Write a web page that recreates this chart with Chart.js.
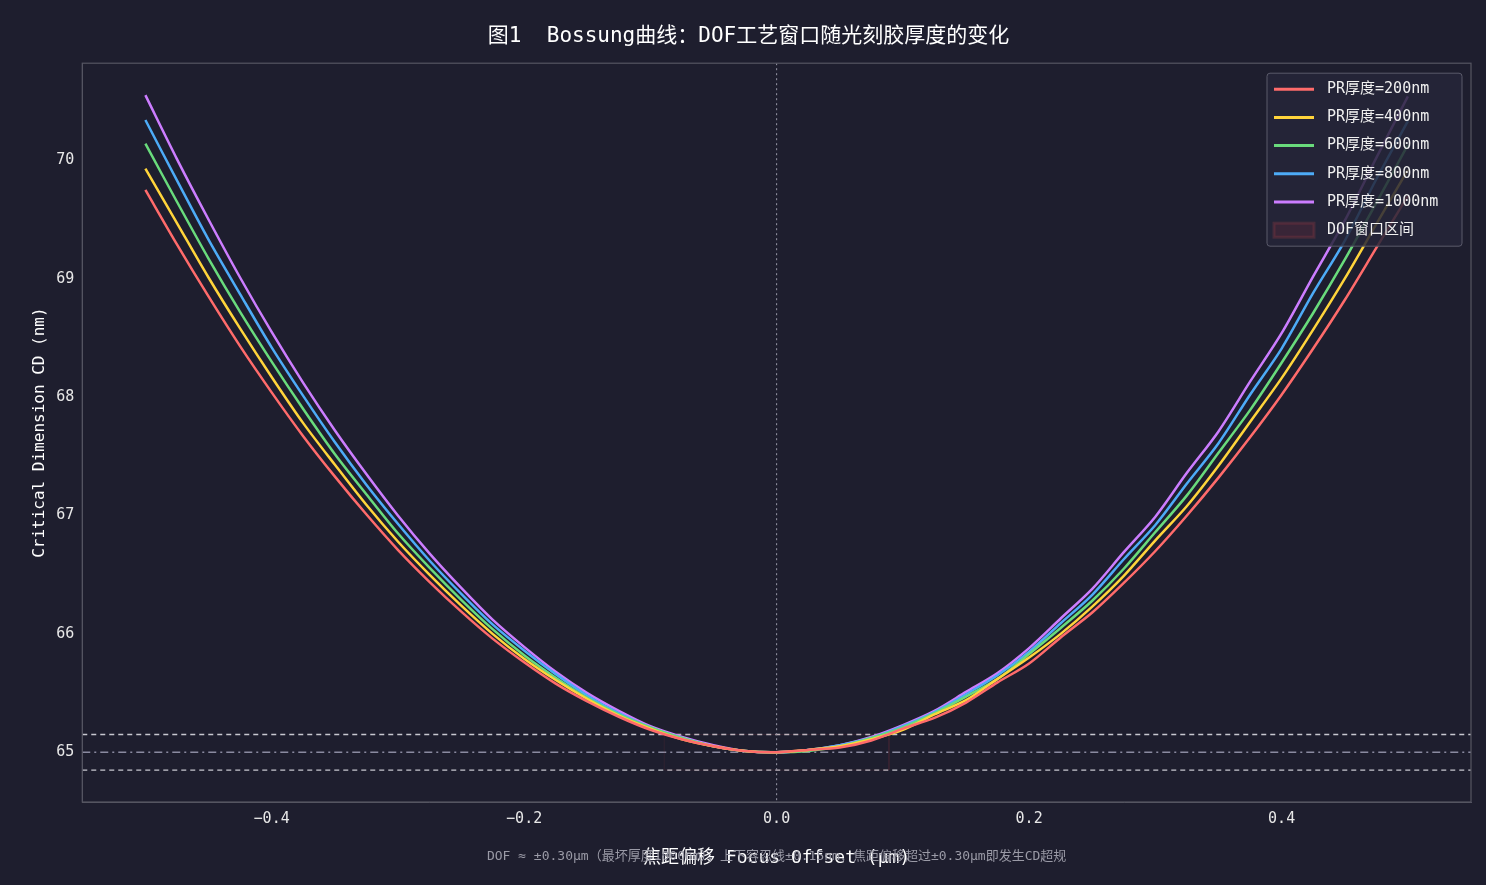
<!DOCTYPE html>
<html><head><meta charset="utf-8">
<script src="https://cdn.jsdelivr.net/npm/chart.js@4"></script>
<style>html,body{margin:0;padding:0;background:#1e1e2e;}canvas{display:block;}</style>
</head><body><canvas id="c" width="1486" height="885"></canvas>
<script>
const focus = [-0.5,-0.475,-0.45,-0.425,-0.4,-0.375,-0.35,-0.325,-0.3,-0.275,-0.25,-0.225,-0.2,-0.175,-0.15,-0.125,-0.1,-0.075,-0.05,-0.025,0,
  0.025,0.05,0.075,0.1,0.125,0.15,0.175,0.2,0.225,0.25,0.275,0.3,0.325,0.35,0.375,0.4,0.425,0.45,0.475,0.5];
const cd200 = [69.75,69.29,68.85,68.43,68.04,67.67,67.33,67.01,66.71,66.44,66.19,65.96,65.76,65.58,65.43,65.30,65.19,65.11,65.05,65.01,65.00,
  65.02,65.04,65.10,65.20,65.29,65.42,65.59,65.75,65.97,66.18,66.43,66.70,67.00,67.32,67.66,68.02,68.41,68.82,69.26,69.70];
const cd400 = [69.93,69.47,69.01,68.58,68.17,67.78,67.43,67.09,66.78,66.50,66.24,66.00,65.79,65.61,65.45,65.31,65.20,65.11,65.05,65.01,65.00,
  65.02,65.05,65.11,65.19,65.32,65.44,65.62,65.80,66.00,66.23,66.49,66.79,67.08,67.42,67.79,68.16,68.57,69.00,69.46,69.92];
const cd600 = [70.14,69.65,69.17,68.72,68.30,67.90,67.52,67.18,66.85,66.56,66.29,66.04,65.82,65.63,65.46,65.32,65.21,65.12,65.05,65.01,65.00,
  65.01,65.05,65.12,65.21,65.33,65.47,65.62,65.83,66.05,66.28,66.55,66.86,67.17,67.53,67.89,68.29,68.71,69.16,69.64,70.13];
const cd800 = [70.34,69.83,69.33,68.87,68.42,68.01,67.62,67.26,66.93,66.62,66.34,66.08,65.86,65.66,65.48,65.33,65.21,65.12,65.05,65.01,65.00,
  65.02,65.06,65.12,65.22,65.34,65.49,65.65,65.85,66.09,66.33,66.63,66.92,67.27,67.61,68.02,68.41,68.88,69.32,69.84,70.33];
const cd1000 = [70.55,70.01,69.50,69.01,68.55,68.12,67.72,67.35,67.00,66.68,66.39,66.12,65.89,65.68,65.50,65.35,65.22,65.13,65.06,65.01,65.00,
  65.02,65.06,65.13,65.23,65.35,65.51,65.67,65.88,66.13,66.38,66.69,66.99,67.36,67.71,68.13,68.54,69.02,69.49,70.02,70.54];
const seriesNames = ['PR厚度=200nm','PR厚度=400nm','PR厚度=600nm','PR厚度=800nm','PR厚度=1000nm'];
const seriesColors = ['#ff6b6b','#ffd43b','#69db7c','#4dabf7','#cc7dff'];
const targetCD = 65.0, tolUpper = 65.15, tolLower = 64.85;
const dofWindow = [-0.089, 0.089];
const xTicks = [-0.4,-0.2,0,0.2,0.4];
const yTicks = [65,66,67,68,69,70];
const FONT = '"DejaVu Sans Mono","Noto Sans CJK SC"';

const allSeries = [cd200,cd400,cd600,cd800,cd1000];
const datasets = allSeries.map((arr,i)=>({
  label: seriesNames[i], data: arr.map((v,j)=>({x:focus[j],y:v})),
  borderColor: seriesColors[i], backgroundColor: seriesColors[i], borderWidth: 2.5,
  pointRadius: 0, tension: 0.3, fill: false, order: 1
}));
datasets.push({
  label:'DOF窗口区间',
  data:[{x:dofWindow[0],y:tolLower},{x:dofWindow[0],y:tolUpper},{x:dofWindow[1],y:tolUpper},{x:dofWindow[1],y:tolLower},{x:dofWindow[0],y:tolLower}],
  borderColor:'rgba(150,60,70,0.15)', backgroundColor:'rgba(120,40,55,0.25)', borderWidth:1, pointRadius:0, fill:true, tension:0, order: 5
});

const refLines = {
  id:'refLines',
  beforeDatasetsDraw(chart){
    const {ctx, chartArea:a, scales:{x,y}} = chart;
    ctx.save();
    ctx.lineWidth = 1.3;
    ctx.strokeStyle = '#c8c8d0';
    ctx.setLineDash([5,4]);
    [tolUpper,tolLower].forEach(v=>{const p=y.getPixelForValue(v);ctx.beginPath();ctx.moveTo(a.left,p);ctx.lineTo(a.right,p);ctx.stroke();});
    ctx.strokeStyle = '#8a8aa0';
    ctx.setLineDash([8,4,2,4]);
    let p=y.getPixelForValue(targetCD);ctx.beginPath();ctx.moveTo(a.left,p);ctx.lineTo(a.right,p);ctx.stroke();
    ctx.strokeStyle = '#9a9aaa'; ctx.lineWidth=1;
    ctx.setLineDash([2,3]);
    p=x.getPixelForValue(0);ctx.beginPath();ctx.moveTo(p,a.top);ctx.lineTo(p,a.bottom);ctx.stroke();
    ctx.restore();
  },
  afterDraw(chart){
    const {ctx, chartArea:a} = chart;
    ctx.save();
    ctx.strokeStyle='#555562'; ctx.lineWidth=1.2;
    ctx.strokeRect(a.left,a.top,a.right-a.left,a.bottom-a.top);
    // legend
    const lx=a.right-204, ly=a.top+10, lw=195, lh=173;
    ctx.fillStyle='rgba(38,38,56,0.85)'; ctx.strokeStyle='#5a5a6a'; ctx.lineWidth=1;
    ctx.beginPath(); ctx.roundRect(lx,ly,lw,lh,3); ctx.fill(); ctx.stroke();
    ctx.font='15px '+FONT; ctx.textBaseline='middle'; ctx.textAlign='left';
    chart.data.datasets.forEach((d,i)=>{
      const yy=ly+16+i*28.2;
      if(i<5){ctx.strokeStyle=d.borderColor;ctx.lineWidth=3;ctx.beginPath();ctx.moveTo(lx+7,yy);ctx.lineTo(lx+47,yy);ctx.stroke();}
      else{ctx.fillStyle=d.backgroundColor;ctx.fillRect(lx+7,yy-7,40,14);ctx.strokeStyle='rgba(150,60,70,0.3)';ctx.strokeRect(lx+7,yy-7,40,14);}
      ctx.fillStyle='#f0f0f0'; ctx.fillText(d.label,lx+60,yy);
    });
    ctx.textAlign='center';
    ctx.fillStyle='#ffffff'; ctx.font='18px '+FONT;
    ctx.fillText('焦距偏移 Focus Offset (μm)', (a.left+a.right)/2, 858);
    ctx.fillStyle='#9a9aa6'; ctx.font='13px '+FONT;
    ctx.fillText('DOF ≈ ±0.30μm（最坏厚度1000nm），上下容忍线±0.15nm，焦距偏移超过±0.30μm即发生CD超规', (a.left+a.right)/2, 857);
    ctx.restore();
  }
};

new Chart(document.getElementById('c'),{
  type:'line',
  data:{datasets},
  plugins:[refLines],
  options:{
    responsive:false, animation:false, devicePixelRatio:1,
    layout:{padding:{left:26,right:15,top:14,bottom:54}},
    plugins:{
      title:{display:true,text:'图1  Bossung曲线：DOF工艺窗口随光刻胶厚度的变化',color:'#ffffff',font:{family:FONT,size:21,weight:'normal'},padding:{top:10,bottom:14}},
      legend:{display:false},
      tooltip:{enabled:false}
    },
    scales:{
      x:{type:'linear',min:-0.55,max:0.55,
        afterBuildTicks(s){s.ticks=xTicks.map(v=>({value:v}));},
        ticks:{color:'#e8e8e8',font:{family:FONT,size:15},callback:v=>(v<0?'−':'')+Math.abs(v).toFixed(1)},
        grid:{display:false,drawTicks:true,tickColor:'#888',tickLength:5},border:{color:'#555562'}},
      y:{min:64.58,max:70.82,
        afterBuildTicks(s){s.ticks=yTicks.map(v=>({value:v}));},
        ticks:{color:'#e8e8e8',font:{family:FONT,size:15}},
        grid:{display:false,drawTicks:true,tickColor:'#888',tickLength:5},border:{color:'#555562'},
        title:{display:true,text:'Critical Dimension CD (nm)',color:'#ffffff',font:{family:FONT,size:16}}}
    }
  }
});
</script></body></html>
